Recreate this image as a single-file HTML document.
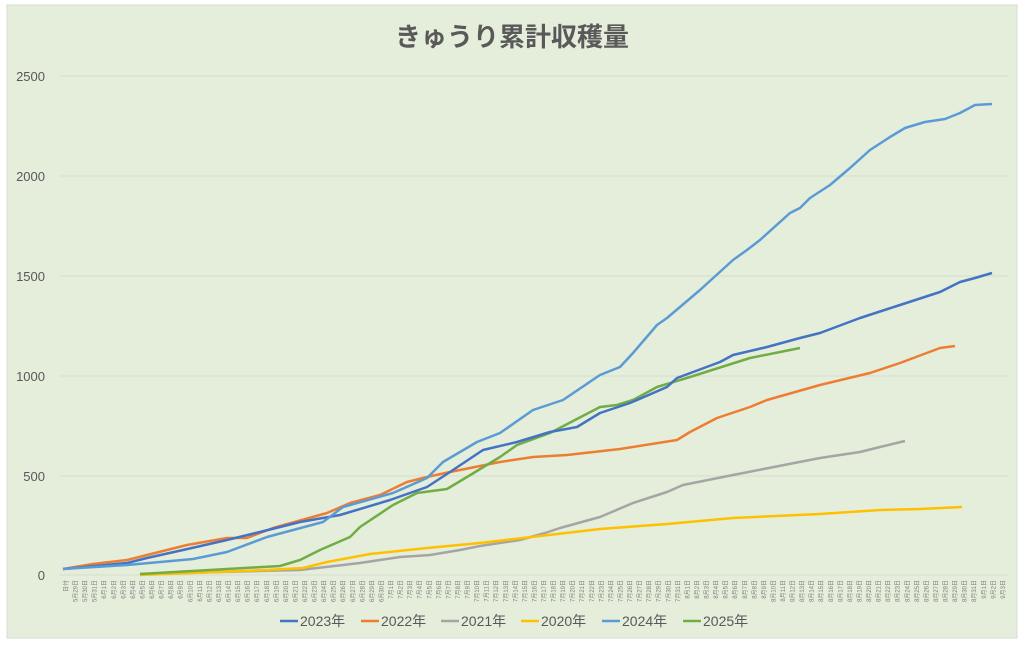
<!DOCTYPE html>
<html><head><meta charset="utf-8"><style>
body{margin:0;background:#fff;}
svg{display:block;font-family:"Liberation Sans","Noto Sans CJK JP",sans-serif;}
</style></head><body>
<svg width="1024" height="646" viewBox="0 0 1024 646" xmlns="http://www.w3.org/2000/svg">
<rect x="7" y="5" width="1010" height="633" fill="#e5eedb" stroke="#d8dcd4"/>
<text x="512" y="46" text-anchor="middle" font-size="26" font-weight="bold" fill="#595959" font-family="'Noto Sans CJK JP',sans-serif">きゅうり累計収穫量</text>
<g stroke="#d5dccd" stroke-width="1">
<line x1="60" x2="1008" y1="76" y2="76"/><line x1="60" x2="1008" y1="176" y2="176"/><line x1="60" x2="1008" y1="276" y2="276"/><line x1="60" x2="1008" y1="376" y2="376"/><line x1="60" x2="1008" y1="476" y2="476"/><line x1="60" x2="1008" y1="575" y2="575"/>
</g>
<g font-size="13" fill="#595959" text-anchor="end">
<text x="45" y="81">2500</text><text x="45" y="181">2000</text><text x="45" y="281">1500</text><text x="45" y="381">1000</text><text x="45" y="481">500</text><text x="45" y="580">0</text>
</g>
<g fill="none" stroke-width="2.5" stroke-linejoin="round">
<polyline stroke="#a5a5a5" points="140,574 300,570 360,563 400,557 430,555 460,550 480,546 520,540 545,533 560,528 600,517 633,503 667,492 683,485 733,475 820,458 860,452 880,447 905,441"/>
<polyline stroke="#ffc000" points="140,575 267,570 303,568 327,562 370,554 427,548 480,543 600,529 667,524 733,518 820,514 880,510 920,509 962,507"/>
<polyline stroke="#ed7d31" points="63,569 93,564 127,560 147,555 187,545 227,538 247,538 273,528 327,513 350,503 380,495 407,482 427,477 450,472 500,462 533,457 567,455 620,449 677,440 690,432 717,418 750,407 767,400 820,385 870,373 900,363 940,348 955,346"/>
<polyline stroke="#70ad47" points="140,574 227,569 280,566 300,560 320,550 350,537 360,527 393,505 417,493 447,489 467,477 500,457 517,445 550,433 600,407 617,405 633,400 657,387 690,377 750,358 800,348"/>
<polyline stroke="#4472c4" points="63,569 127,563 147,558 183,550 227,540 260,532 300,522 340,515 390,500 427,487 450,472 483,450 517,442 550,432 577,427 600,413 630,403 667,387 677,378 720,362 733,355 767,347 800,338 820,333 860,318 900,305 940,292 960,282 975,278 992,273"/>
<polyline stroke="#5b9bd5" points="63,569 127,565 193,559 227,552 267,537 323,522 343,507 393,493 427,478 443,462 477,442 500,433 533,410 563,400 600,375 620,367 633,353 657,325 667,318 700,290 733,260 747,250 760,240 790,213 800,208 810,198 830,185 850,168 870,150 890,137 905,128 925,122 945,119 960,113 975,105 992,104"/>
</g>
<g font-size="6" fill="#7f7f7f" text-anchor="end">
<text transform="translate(68,580) rotate(-90)">日付</text>
<text transform="translate(77.6,580) rotate(-90)">5月29日</text>
<text transform="translate(87.1,580) rotate(-90)">5月30日</text>
<text transform="translate(96.7,580) rotate(-90)">5月31日</text>
<text transform="translate(106.2,580) rotate(-90)">6月1日</text>
<text transform="translate(115.8,580) rotate(-90)">6月2日</text>
<text transform="translate(125.4,580) rotate(-90)">6月3日</text>
<text transform="translate(134.9,580) rotate(-90)">6月4日</text>
<text transform="translate(144.5,580) rotate(-90)">6月5日</text>
<text transform="translate(154,580) rotate(-90)">6月6日</text>
<text transform="translate(163.6,580) rotate(-90)">6月7日</text>
<text transform="translate(173.2,580) rotate(-90)">6月8日</text>
<text transform="translate(182.7,580) rotate(-90)">6月9日</text>
<text transform="translate(192.3,580) rotate(-90)">6月10日</text>
<text transform="translate(201.8,580) rotate(-90)">6月11日</text>
<text transform="translate(211.4,580) rotate(-90)">6月12日</text>
<text transform="translate(221,580) rotate(-90)">6月13日</text>
<text transform="translate(230.5,580) rotate(-90)">6月14日</text>
<text transform="translate(240.1,580) rotate(-90)">6月15日</text>
<text transform="translate(249.6,580) rotate(-90)">6月16日</text>
<text transform="translate(259.2,580) rotate(-90)">6月17日</text>
<text transform="translate(268.8,580) rotate(-90)">6月18日</text>
<text transform="translate(278.3,580) rotate(-90)">6月19日</text>
<text transform="translate(287.9,580) rotate(-90)">6月20日</text>
<text transform="translate(297.4,580) rotate(-90)">6月21日</text>
<text transform="translate(307,580) rotate(-90)">6月22日</text>
<text transform="translate(316.6,580) rotate(-90)">6月23日</text>
<text transform="translate(326.1,580) rotate(-90)">6月24日</text>
<text transform="translate(335.7,580) rotate(-90)">6月25日</text>
<text transform="translate(345.2,580) rotate(-90)">6月26日</text>
<text transform="translate(354.8,580) rotate(-90)">6月27日</text>
<text transform="translate(364.4,580) rotate(-90)">6月28日</text>
<text transform="translate(373.9,580) rotate(-90)">6月29日</text>
<text transform="translate(383.5,580) rotate(-90)">6月30日</text>
<text transform="translate(393,580) rotate(-90)">7月1日</text>
<text transform="translate(402.6,580) rotate(-90)">7月2日</text>
<text transform="translate(412.2,580) rotate(-90)">7月3日</text>
<text transform="translate(421.7,580) rotate(-90)">7月4日</text>
<text transform="translate(431.3,580) rotate(-90)">7月5日</text>
<text transform="translate(440.8,580) rotate(-90)">7月6日</text>
<text transform="translate(450.4,580) rotate(-90)">7月7日</text>
<text transform="translate(460,580) rotate(-90)">7月8日</text>
<text transform="translate(469.5,580) rotate(-90)">7月9日</text>
<text transform="translate(479.1,580) rotate(-90)">7月10日</text>
<text transform="translate(488.6,580) rotate(-90)">7月11日</text>
<text transform="translate(498.2,580) rotate(-90)">7月12日</text>
<text transform="translate(507.8,580) rotate(-90)">7月13日</text>
<text transform="translate(517.3,580) rotate(-90)">7月14日</text>
<text transform="translate(526.9,580) rotate(-90)">7月15日</text>
<text transform="translate(536.4,580) rotate(-90)">7月16日</text>
<text transform="translate(546,580) rotate(-90)">7月17日</text>
<text transform="translate(555.6,580) rotate(-90)">7月18日</text>
<text transform="translate(565.1,580) rotate(-90)">7月19日</text>
<text transform="translate(574.7,580) rotate(-90)">7月20日</text>
<text transform="translate(584.2,580) rotate(-90)">7月21日</text>
<text transform="translate(593.8,580) rotate(-90)">7月22日</text>
<text transform="translate(603.4,580) rotate(-90)">7月23日</text>
<text transform="translate(612.9,580) rotate(-90)">7月24日</text>
<text transform="translate(622.5,580) rotate(-90)">7月25日</text>
<text transform="translate(632,580) rotate(-90)">7月26日</text>
<text transform="translate(641.6,580) rotate(-90)">7月27日</text>
<text transform="translate(651.2,580) rotate(-90)">7月28日</text>
<text transform="translate(660.7,580) rotate(-90)">7月29日</text>
<text transform="translate(670.3,580) rotate(-90)">7月30日</text>
<text transform="translate(679.8,580) rotate(-90)">7月31日</text>
<text transform="translate(689.4,580) rotate(-90)">8月1日</text>
<text transform="translate(699,580) rotate(-90)">8月2日</text>
<text transform="translate(708.5,580) rotate(-90)">8月3日</text>
<text transform="translate(718.1,580) rotate(-90)">8月4日</text>
<text transform="translate(727.6,580) rotate(-90)">8月5日</text>
<text transform="translate(737.2,580) rotate(-90)">8月6日</text>
<text transform="translate(746.8,580) rotate(-90)">8月7日</text>
<text transform="translate(756.3,580) rotate(-90)">8月8日</text>
<text transform="translate(765.9,580) rotate(-90)">8月9日</text>
<text transform="translate(775.4,580) rotate(-90)">8月10日</text>
<text transform="translate(785,580) rotate(-90)">8月11日</text>
<text transform="translate(794.6,580) rotate(-90)">8月12日</text>
<text transform="translate(804.1,580) rotate(-90)">8月13日</text>
<text transform="translate(813.7,580) rotate(-90)">8月14日</text>
<text transform="translate(823.2,580) rotate(-90)">8月15日</text>
<text transform="translate(832.8,580) rotate(-90)">8月16日</text>
<text transform="translate(842.4,580) rotate(-90)">8月17日</text>
<text transform="translate(851.9,580) rotate(-90)">8月18日</text>
<text transform="translate(861.5,580) rotate(-90)">8月19日</text>
<text transform="translate(871,580) rotate(-90)">8月20日</text>
<text transform="translate(880.6,580) rotate(-90)">8月21日</text>
<text transform="translate(890.2,580) rotate(-90)">8月22日</text>
<text transform="translate(899.7,580) rotate(-90)">8月23日</text>
<text transform="translate(909.3,580) rotate(-90)">8月24日</text>
<text transform="translate(918.8,580) rotate(-90)">8月25日</text>
<text transform="translate(928.4,580) rotate(-90)">8月26日</text>
<text transform="translate(938,580) rotate(-90)">8月27日</text>
<text transform="translate(947.5,580) rotate(-90)">8月28日</text>
<text transform="translate(957.1,580) rotate(-90)">8月29日</text>
<text transform="translate(966.6,580) rotate(-90)">8月30日</text>
<text transform="translate(976.2,580) rotate(-90)">8月31日</text>
<text transform="translate(985.8,580) rotate(-90)">9月1日</text>
<text transform="translate(995.3,580) rotate(-90)">9月2日</text>
<text transform="translate(1004.9,580) rotate(-90)">9月3日</text>
</g>
<g font-size="14" fill="#595959" stroke-width="2.5">
<line x1="280" x2="298" y1="621" y2="621" stroke="#4472c4"/><text x="300" y="626">2023年</text>
<line x1="361" x2="379" y1="621" y2="621" stroke="#ed7d31"/><text x="381" y="626">2022年</text>
<line x1="441" x2="459" y1="621" y2="621" stroke="#a5a5a5"/><text x="461" y="626">2021年</text>
<line x1="521" x2="539" y1="621" y2="621" stroke="#ffc000"/><text x="541" y="626">2020年</text>
<line x1="602" x2="620" y1="621" y2="621" stroke="#5b9bd5"/><text x="622" y="626">2024年</text>
<line x1="683" x2="701" y1="621" y2="621" stroke="#70ad47"/><text x="703" y="626">2025年</text>
</g>
</svg>
</body></html>
